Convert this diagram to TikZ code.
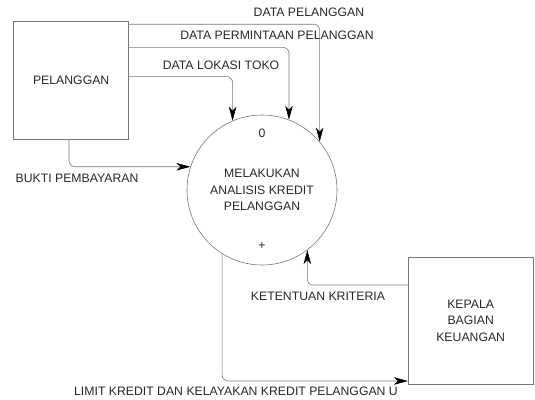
\documentclass[tikz,border=0pt]{standalone}
\usepackage{fontspec}
\setmainfont{Liberation Sans}
\usepackage{tikz}
\usetikzlibrary{arrows.meta, positioning, calc}
\definecolor{garis}{RGB}{120,120,120}
\definecolor{teks}{RGB}{40,40,40}

\begin{document}
\begin{tikzpicture}[x=1bp, y=-1bp, font=\fontsize{12.3}{16.7}\selectfont, text=teks,
  entitybox/.style = {draw=garis, line width=0.6pt, minimum width=115bp, minimum height=118bp, align=center, inner sep=0pt},
  prosesbox/.style = {draw=garis, line width=0.6pt, circle, minimum size=150bp, align=center, inner sep=0pt},
  flowlabel/.style = {inner sep=0pt},
  arrow/.style = {-{Stealth[length=14bp, width=7.5bp, inset=4bp, color=black]}, draw=garis, line width=0.6pt, rounded corners=6bp}
]
\useasboundingbox (0,0) rectangle (535,399);
\node[entitybox] (pelanggan) at (71.2,80.1) {PELANGGAN};
\node[prosesbox] (proses) at (262,190) {MELAKUKAN\\ANALISIS KREDIT\\PELANGGAN};
\node (nomor) at ([yshift=57bp]proses.center) {0};
\node (plus) at ([yshift=-56bp]proses.center) {+};
\node[entitybox, minimum width=125bp, minimum height=127bp] (kepala) at (470.7,320.8) {KEPALA\\BAGIAN\\KEUANGAN};
\node[flowlabel] (label_data_pelanggan) at (309,12.6) {DATA PELANGGAN};
\node[flowlabel] (label_data_permintaan) at (277,35) {DATA PERMINTAAN PELANGGAN};
\node[flowlabel] (label_data_lokasi) at (221,65) {DATA LOKASI TOKO};
\node[flowlabel] (label_bukti) at (77,178.5) {BUKTI PEMBAYARAN};
\node[flowlabel] (label_ketentuan) at (318,296.7) {KETENTUAN KRITERIA};
\node[flowlabel] (label_limit) at (236,391.7) {LIMIT KREDIT DAN KELAYAKAN KREDIT PELANGGAN U};
\draw[arrow] ([yshift=-3.4bp]pelanggan.north east) -| (proses.40.7);
\draw[arrow] ([yshift=-26.6bp]pelanggan.north east) -| (proses.69.7);
\draw[arrow] ([yshift=-55.8bp]pelanggan.north east) -| (proses.113.6);
\draw[arrow] ([xshift=-2.2bp]pelanggan.south) |- (proses.162.1);
\draw[arrow] ([yshift=35.8bp]kepala.west) -| (proses.307.9);
\draw[arrow] (proses.238.6) |- ([yshift=-60.2bp]kepala.west);
\end{tikzpicture}
\end{document}
